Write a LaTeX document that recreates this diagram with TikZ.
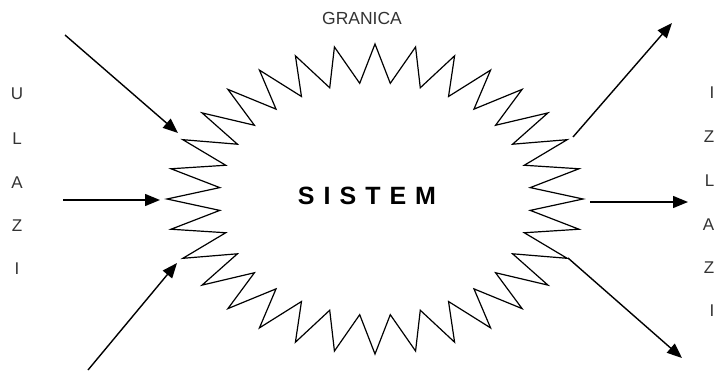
\documentclass[tikz,border=0pt]{standalone}
\usepackage{fontspec}
\setmainfont{Liberation Sans}
\usetikzlibrary{arrows.meta}
\begin{document}
\begin{tikzpicture}[x=1pt,y=-1pt,
  lbl/.style={inner sep=0pt,text=black!80,font=\fontsize{17}{19}\selectfont},
  rlbl/.style={lbl,anchor=east},
  zig/.style={line width=1.2pt,line join=miter,black},
  flow/.style={line width=1.4pt,-{Triangle[length=15pt,width=12pt]}}]
\useasboundingbox (0,0) rectangle (715,372);
% boundary
\draw[zig] (583,199) \foreach \k in {1,...,63} {
  -- ({375+208*(1-0.25*mod(\k,2))*cos(\k*5.625)},{199-155*(1-0.25*mod(\k,2))*sin(\k*5.625)}) } -- cycle;
\node[inner sep=0pt,font=\fontsize{25}{28}\selectfont\bfseries\addfontfeature{LetterSpace=36}] (sys) at (367,196) {SISTEM};
\node[lbl,font=\fontsize{17.5}{19}\selectfont] (gr) at (362,18) {GRANICA};
% left letters
\node[lbl] (u1) at (17,94) {U};
\node[lbl] (l1) at (17,139) {L};
\node[lbl] (a1) at (17,183) {A};
\node[lbl] (z1) at (17,226) {Z};
\node[lbl] (i1) at (17,269) {I};
% right letters
\node[lbl] (i2) at (712,93) {I};
\node[rlbl] (z2) at (714.5,137) {Z};
\node[rlbl] (l2) at (714.5,181) {L};
\node[rlbl] (a2) at (714.5,225) {A};
\node[rlbl] (z3) at (714.5,268) {Z};
\node[lbl] (i3) at (712,311) {I};
% arrow endpoints
\coordinate (in1s) at (65,35);   \coordinate (in1e) at (178,133);
\coordinate (in2s) at (63,200);  \coordinate (in2e) at (160,200);
\coordinate (in3s) at (88,370);  \coordinate (in3e) at (177,263);
\coordinate (out1s) at (573,137); \coordinate (out1e) at (672,23);
\coordinate (out2s) at (590,202); \coordinate (out2e) at (688,202);
\coordinate (out3s) at (568,258); \coordinate (out3e) at (682,358);
\draw[flow] (in1s) -- (in1e);
\draw[flow] (in2s) -- (in2e);
\draw[flow] (in3s) -- (in3e);
\draw[flow] (out1s) -- (out1e);
\draw[flow] (out2s) -- (out2e);
\draw[flow] (out3s) -- (out3e);
\end{tikzpicture}
\end{document}
